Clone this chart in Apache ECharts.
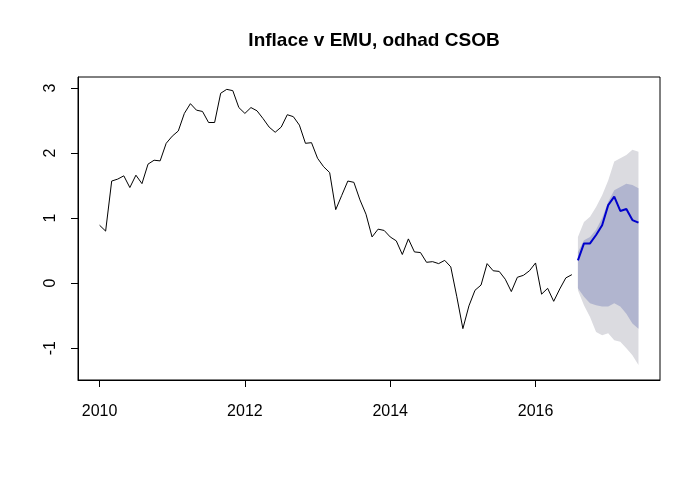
<!DOCTYPE html>
<html>
<head>
<meta charset="utf-8">
<script src="https://cdn.jsdelivr.net/npm/echarts@6/dist/echarts.min.js"></script>
<style>html,body{margin:0;padding:0;background:#fff}#c{width:700px;height:477px}</style>
</head>
<body>
<div id="c"></div>
<script>
// Monthly series starting January 2010
const startYear = 2010;
const actual = [
  0.89,0.80,1.57,1.60,1.65,1.47,1.66,1.53,1.83,1.89,1.88,2.15,
  2.26,2.34,2.61,2.76,2.66,2.64,2.47,2.47,2.92,2.98,2.96,2.70,
  2.61,2.70,2.65,2.53,2.40,2.32,2.40,2.59,2.56,2.43,2.15,2.16,
  1.92,1.79,1.70,1.13,1.35,1.57,1.55,1.28,1.06,0.71,0.83,0.81,
  0.71,0.65,0.44,0.68,0.48,0.47,0.32,0.33,0.30,0.35,0.25,-0.21,
  -0.70,-0.35,-0.11,-0.03,0.30,0.19,0.18,0.06,-0.13,0.09,0.12,0.19,
  0.31,-0.17,-0.08,-0.28,-0.09,0.08,0.13
];
// Forecast Aug 2016 - Jun 2017
const forecast = [0.35,0.61,0.61,0.74,0.89,1.20,1.33,1.11,1.14,0.97,0.93];
const upper80  = [0.48,0.66,0.71,0.82,1.00,1.25,1.43,1.48,1.53,1.51,1.46];
const lower80  = [-0.08,-0.21,-0.31,-0.34,-0.36,-0.36,-0.31,-0.36,-0.47,-0.62,-0.70];
const upper95  = [0.71,0.94,1.02,1.17,1.35,1.58,1.87,1.92,1.97,2.05,2.02];
const lower95  = [-0.11,-0.34,-0.52,-0.75,-0.80,-0.77,-0.88,-0.90,-1.00,-1.11,-1.26];
const xTicks = [2010, 2012, 2014, 2016];
const yTicks = [-1, 0, 1, 2, 3];
const titleText = 'Inflace v EMU, odhad CSOB';

const t = i => startYear + i / 12;
const actData = actual.map((v, i) => [t(i), v]);
const f0 = actual.length;
const fcData = forecast.map((v, i) => [t(f0 + i), v]);
const band95 = upper95.map((v, i) => [t(f0 + i), lower95[i], v]);
const band80 = upper80.map((v, i) => [t(f0 + i), lower80[i], v]);

function bandSeries(rows, color) {
  return {
    type: 'custom',
    data: rows,
    encode: {x: 0, y: [1, 2]},
    clip: true,
    silent: true,
    renderItem: function (params, api) {
      if (params.dataIndex !== 0) return null;
      const pts = [];
      rows.forEach(r => pts.push(api.coord([r[0], r[2]])));
      for (let i = rows.length - 1; i >= 0; i--) pts.push(api.coord([rows[i][0], rows[i][1]]));
      return {type: 'polygon', shape: {points: pts}, style: {fill: color, stroke: null}};
    }
  };
}

const font = "'Liberation Sans', Arial, sans-serif";
const chart = echarts.init(document.getElementById('c'), null, {renderer: 'canvas'});
chart.setOption({
  animation: false,
  title: {
    text: titleText, left: 369, top: 26, textAlign: 'center',
    textStyle: {fontFamily: font, fontWeight: 'bold', fontSize: 19, color: '#000'}
  },
  grid: {left: 78, right: 40, top: 77, bottom: 97, show: true, borderColor: '#000', borderWidth: 1, backgroundColor: 'transparent'},
  xAxis: {
    type: 'value', min: 2009.703, max: 2017.713,
    axisLine: {show: true, onZero: false, lineStyle: {color: '#000', width: 1}},
    axisTick: {show: true, length: 7, lineStyle: {color: '#000'}, customValues: xTicks},
    axisLabel: {customValues: xTicks, margin: 24, color: '#000', fontSize: 16, fontFamily: font, formatter: v => String(v)},
    splitLine: {show: false}
  },
  yAxis: {
    type: 'value', min: -1.49, max: 3.17,
    axisLine: {show: true, onZero: false, lineStyle: {color: '#000', width: 1}},
    axisTick: {show: true, length: 7, lineStyle: {color: '#000'}, customValues: yTicks},
    axisLabel: {customValues: yTicks, rotate: 90, margin: 19, color: '#000', fontSize: 16, fontFamily: font, formatter: v => String(v)},
    splitLine: {show: false}
  },
  series: [
    bandSeries(band95, '#DBDBE0'),
    bandSeries(band80, '#B1B5CF'),
    {type: 'line', data: actData, showSymbol: false, symbol: 'none', lineStyle: {color: '#000', width: 1}},
    {type: 'line', data: fcData, showSymbol: false, symbol: 'none', lineStyle: {color: '#0000CC', width: 2}}
  ]
});
</script>
</body>
</html>
